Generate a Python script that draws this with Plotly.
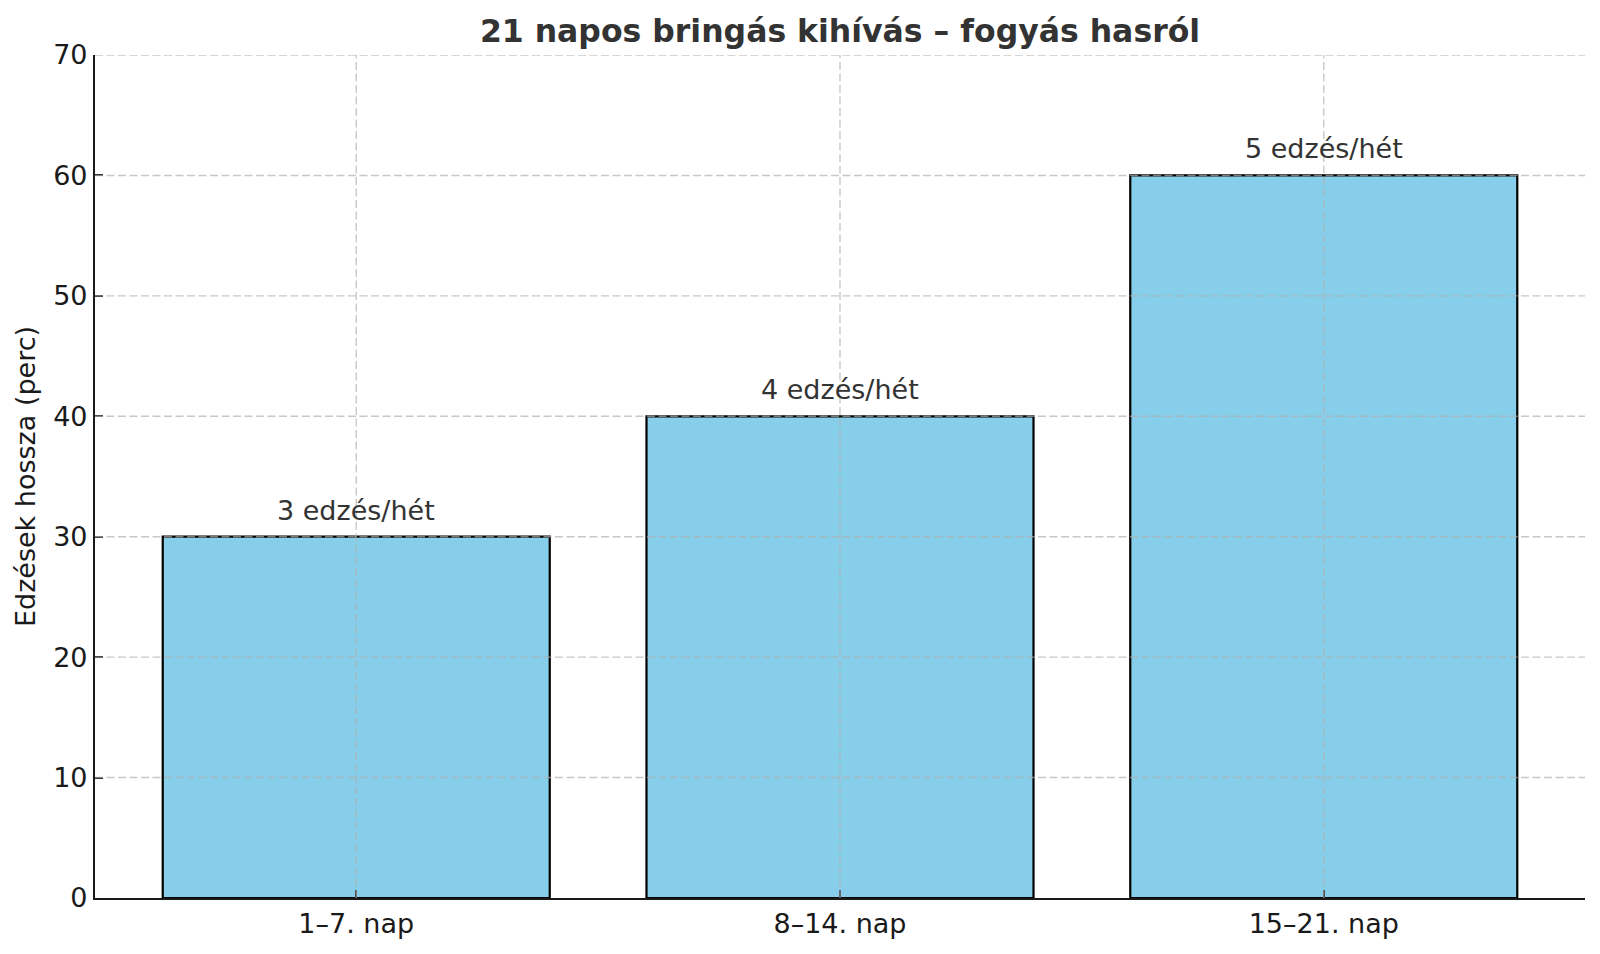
import plotly.graph_objects as go

categories = ["1–7. nap", "8–14. nap", "15–21. nap"]
minutes = [30, 40, 60]
labels = ["3 edzés/hét", "4 edzés/hét", "5 edzés/hét"]
y_ticks = [0, 10, 20, 30, 40, 50, 60, 70]

FONT = "DejaVu Sans"
W, H = 1584, 938
fig = go.Figure()
fig.add_trace(go.Bar(
    x=categories, y=minutes, width=0.8,
    marker=dict(color="#87CEEB", line=dict(color="black", width=2.2)),
    showlegend=False, hoverinfo="skip",
))

for c, v, t in zip(categories, minutes, labels):
    fig.add_annotation(x=c, y=v, text=t, showarrow=False, yanchor="bottom",
                       yshift=9, font=dict(family=FONT, size=27, color="#333333"))

grid = dict(color="rgba(176,176,176,0.7)", width=1.4, dash="8px,3.5px")
for c in categories:
    fig.add_shape(type="line", xref="x", yref="paper", x0=c, x1=c, y0=0, y1=1,
                  line=grid, layer="above")
for v in y_ticks[1:]:
    fig.add_shape(type="line", xref="paper", yref="y", x0=0, x1=1, y0=v, y1=v,
                  line=grid, layer="above")

fig.update_layout(
    width=W, height=H,
    margin=dict(l=87, r=7, t=47, b=43),
    paper_bgcolor="white", plot_bgcolor="white",
    font=dict(family=FONT, color="#1a1a1a"),
    title=dict(text="<b>21 napos bringás kihívás – fogyás hasról</b>",
               x=0.5, xref="paper", xanchor="center", y=1 - 23 / H, yanchor="middle",
               font=dict(family=FONT, size=31.5, color="#333333")),
    bargap=0.2,
)
fig.update_xaxes(
    type="category", range=[-0.54, 2.54], showgrid=False,
    showline=True, linecolor="#1a1a1a", linewidth=2.2,
    ticks="inside", ticklen=8, tickwidth=2.2, tickcolor="#1a1a1a",
    tickfont=dict(family=FONT, size=27, color="#1a1a1a"), layer="above traces",
)
fig.update_yaxes(
    range=[0, 70], tickvals=y_ticks, showgrid=False, zeroline=False,
    showline=True, linecolor="#1a1a1a", linewidth=2.2,
    ticks="inside", ticklen=8, tickwidth=2.2, tickcolor="#1a1a1a",
    tickfont=dict(family=FONT, size=27, color="#1a1a1a"), layer="above traces",
    title=dict(text="Edzések hossza (perc)", font=dict(family=FONT, size=27, color="#1a1a1a"),
               standoff=10),
)
fig.write_html("out.html")
